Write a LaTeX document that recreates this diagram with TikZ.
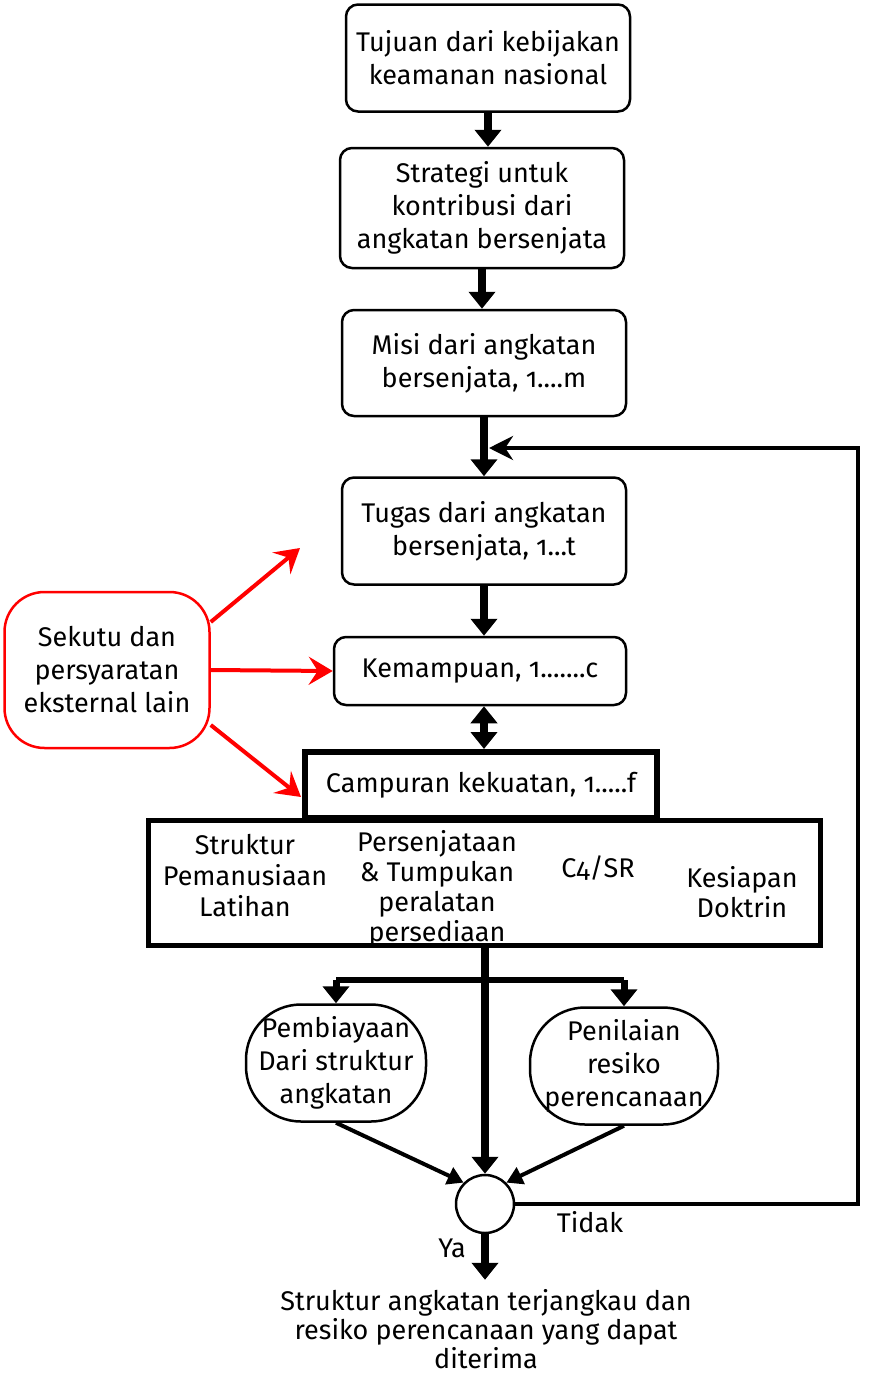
\documentclass[tikz,border=0pt]{standalone}
\usepackage{fontspec}
\setmainfont[Numbers=OldStyle]{Fira Sans}
\usetikzlibrary{arrows.meta}
\tikzset{
    flow-box/.style = {draw=black, fill=white, line width=2.5pt, rectangle, rounded corners=12pt, minimum width=284pt, align=center},
    heavy-box/.style = {draw=black, fill=white, line width=6pt, rectangle, align=center},
    blob-box/.style = {draw=black, line width=2.5pt, rectangle, rounded corners=55pt, align=center, inner sep=0pt},
    allies-box/.style = {draw=red, line width=2.5pt, rectangle, rounded corners=40pt, minimum width=205pt, minimum height=156pt, align=center, inner sep=0pt},
    big-arrow/.style = {line width=8pt, -{Triangle[length=17pt,width=26pt]}},
    mid-arrow/.style = {line width=4pt, -{Triangle[length=16pt,width=18pt]}},
    loop-arrow/.style = {line width=4pt, -{Stealth[length=24pt,width=24pt]}},
    red-arrow/.style = {draw=red, line width=4pt, -{Stealth[length=24pt,width=28pt,inset=9pt]}},
}

\begin{document}
\begin{tikzpicture}[x=1pt, y=-1pt, font=\fontsize{27}{33}\selectfont]
\useasboundingbox (0,0) rectangle (875,1373);
% main chain
\node [flow-box, minimum height=107pt] (goal) at (488,58) {Tujuan dari kebijakan\\keamanan nasional};
\node [flow-box, minimum height=120pt] (strategy) at (482,208) {Strategi untuk\\kontribusi dari\\angkatan bersenjata};
\node [flow-box, minimum height=106pt] (mission) at (484,363) {Misi dari angkatan\\bersenjata, 1....m};
\node [flow-box, minimum height=107pt] (task) at (484,531) {Tugas dari angkatan\\bersenjata, 1...t};
\node [flow-box, minimum width=292pt, minimum height=68pt] (capability) at (480,671) {Kemampuan, 1.......c};
\node [heavy-box, minimum width=352pt, minimum height=66pt] (forcemix) at (481,785) {Campuran kekuatan, 1.....f};
\node [heavy-box, line width=5pt, minimum width=672pt, minimum height=125pt] (elements) at (484,883) {};
\node [align=center, font=\fontsize{27}{31}\selectfont] (el-struct) at (245,876) {Struktur\\Pemanusiaan\\Latihan};
\node [align=center, font=\fontsize{27}{30}\selectfont] (el-arms) at (437,889) {Persenjataan\\\& Tumpukan\\peralatan\\persediaan};
\node (el-c4) at (598,868) {C4/SR};
\node [align=center, font=\fontsize{27}{30}\selectfont] (el-ready) at (742,892) {Kesiapan\\Doktrin};
\node [blob-box, minimum width=180pt, minimum height=117pt] (cost) at (336,1063) {Pembiayaan\\Dari struktur\\angkatan};
\node [blob-box, minimum width=188pt, minimum height=117pt] (risk) at (624,1066) {Penilaian\\resiko\\perencanaan};
\node [circle, draw, line width=2.5pt, minimum size=58pt] (sum) at (485,1204) {};
\node [align=center, font=\fontsize{27}{29}\selectfont] (result) at (486,1329) {Struktur angkatan terjangkau dan\\resiko perencanaan yang dapat\\diterima};
\node (yes-label) at (452,1248) {Ya};
\node (no-label) at (590,1222) {Tidak};
\node [allies-box] (allies) at (107,670) {Sekutu dan\\persyaratan\\eksternal lain};

\coordinate (split) at (484,980);
\coordinate (loop-corner) at (858,448);
\coordinate (loop-end) at (489,448);
\coordinate (allies-tip) at (300,548);
\coordinate (mix-tip) at (301,797);

% arrows
\draw [big-arrow] (goal.south) -- (goal.south |- strategy.north);
\draw [big-arrow] (strategy.south) -- (strategy.south |- mission.north);
\draw [big-arrow] (mission.south) -- (task.north);
\draw [big-arrow] (task.south) -- (task.south |- capability.north);
\draw [big-arrow, {Triangle[length=17pt,width=26pt]}-{Triangle[length=17pt,width=26pt]}] (capability.south -| task.south) -- (task.south |- forcemix.north);
\draw [big-arrow] (sum.north |- elements.south) -- (sum.north);
\draw [line width=6pt] (cost.north |- split) -- (risk.north |- split);
\draw [big-arrow, line width=7pt] (cost.north |- split) -- (cost.north);
\draw [big-arrow, line width=7pt] (risk.north |- split) -- (risk.north);
\draw [mid-arrow] (cost.south) -- (sum.north west);
\draw [mid-arrow] (risk.south) -- (sum.north east);
\draw [big-arrow, shorten >=6pt] (sum.south) -- (sum.south |- result.north);
\draw [loop-arrow] (sum.east) -| (loop-corner) -- (loop-end);
\draw [red-arrow] ([yshift=48pt]allies.east) -- (allies-tip);
\draw [red-arrow] (allies.east) -- (capability.west);
\draw [red-arrow] ([yshift=-55pt]allies.east) -- (mix-tip);
\end{tikzpicture}
\end{document}
